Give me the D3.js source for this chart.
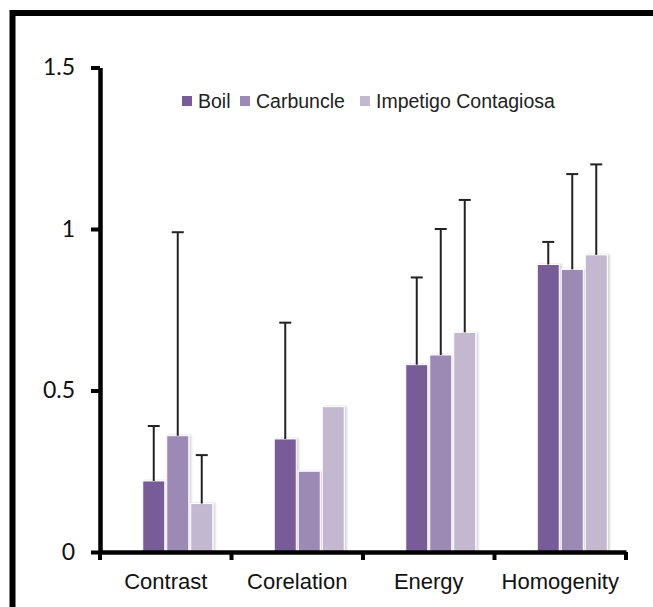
<!DOCTYPE html>
<html>
<head>
<meta charset="utf-8">
<script src="https://cdn.jsdelivr.net/npm/d3@7"></script>
<style>
  html, body { margin: 0; padding: 0; background: #fff; }
  svg { display: block; }
</style>
</head>
<body>
<svg id="chart" width="653" height="607"></svg>
<script>
// Texture features per lesion class
const categories = ["Contrast", "Corelation", "Energy", "Homogenity"];
const seriesNames = ["Boil", "Carbuncle", "Impetigo Contagiosa"];
const boil      = [0.22, 0.35, 0.58, 0.89];
const carbuncle = [0.36, 0.25, 0.61, 0.875];
const impetigo  = [0.15, 0.45, 0.68, 0.92];
// upper end of the error whisker (null = no whisker drawn)
const boilUpper      = [0.39, 0.71, 0.85, 0.96];
const carbuncleUpper = [0.99, null, 1.00, 1.17];
const impetigoUpper  = [0.30, null, 1.09, 1.20];
const yTicks = [0, 0.5, 1, 1.5];
const colors = ["#775c97", "#9c89b4", "#c3b8d0"];

const values = [boil, carbuncle, impetigo];
const uppers = [boilUpper, carbuncleUpper, impetigoUpper];

const svg = d3.select("#chart");

// outer frame (top and left edges)
svg.append("path")
  .attr("d", "M12.5,607 V13 H653")
  .attr("fill", "none")
  .attr("stroke", "#000")
  .attr("stroke-width", 6);

const plot = { left: 100, right: 626, top: 67.5, bottom: 552 };

const x0 = d3.scaleBand().domain(categories).range([plot.left, plot.right]);
const y = d3.scaleLinear().domain([0, 1.5]).range([plot.bottom, plot.top]);

// each category reserves four bar slots; the first one stays empty
const slotCount = 4, slotW = 24, barW = 22;
const x1 = d3.scaleBand().domain(d3.range(slotCount)).range([0, slotCount * slotW]);
const groupLeft = c => x0(c) + (x0.bandwidth() - slotCount * slotW) / 2;

const defs = svg.append("defs");
const f = defs.append("filter").attr("id", "shadow")
  .attr("x", "-20%").attr("y", "-5%").attr("width", "150%").attr("height", "110%");
f.append("feDropShadow").attr("dx", 2).attr("dy", 0).attr("stdDeviation", 1.2)
  .attr("flood-color", "#000").attr("flood-opacity", 0.18);

const rows = [];
categories.forEach((c, ci) => {
  seriesNames.forEach((s, si) => {
    rows.push({ c, si, v: values[si][ci], u: uppers[si][ci] });
  });
});

const bars = svg.append("g");
bars.selectAll("rect")
  .data(rows)
  .join("rect")
  .attr("x", d => groupLeft(d.c) + x1(d.si + 1) + (slotW - barW) / 2)
  .attr("y", d => y(d.v))
  .attr("width", barW)
  .attr("height", d => y(0) - y(d.v))
  .attr("fill", d => colors[d.si])
  .attr("stroke", "#fff")
  .attr("stroke-width", 1)
  .attr("filter", "url(#shadow)");

// upper error whiskers
const err = svg.append("g").attr("stroke", "#222").attr("stroke-width", 2);
const withErr = rows.filter(d => d.u != null);
const cx = d => groupLeft(d.c) + x1(d.si + 1) + slotW / 2;
err.selectAll("line.v").data(withErr).join("line").attr("class", "v")
  .attr("x1", cx).attr("x2", cx)
  .attr("y1", d => y(d.v)).attr("y2", d => y(d.u));
err.selectAll("line.cap").data(withErr).join("line").attr("class", "cap")
  .attr("x1", d => cx(d) - 6).attr("x2", d => cx(d) + 6)
  .attr("y1", d => y(d.u)).attr("y2", d => y(d.u));

// y axis
const yAxis = svg.append("g")
  .attr("transform", `translate(${plot.left},0)`)
  .call(d3.axisLeft(y).tickValues(yTicks).tickSize(9).tickSizeOuter(0).tickFormat(d3.format("")).tickPadding(16));
yAxis.select(".domain").attr("stroke-width", 4.5).attr("stroke", "#000");
yAxis.selectAll(".tick line").attr("stroke-width", 4).attr("stroke", "#000");
yAxis.selectAll(".tick text")
  .attr("font-family", "Lato, 'DejaVu Sans', sans-serif")
  .attr("font-size", 23)
  .attr("fill", "#111");

// x axis: labels centred in each band, ticks on band boundaries
const xAxis = svg.append("g")
  .attr("transform", `translate(0,${plot.bottom})`)
  .call(d3.axisBottom(x0).tickSize(0).tickSizeOuter(0).tickPadding(21));
xAxis.select(".domain").attr("stroke-width", 4.5).attr("stroke", "#000");
xAxis.selectAll(".tick text")
  .attr("font-family", "'Liberation Sans', Arial, sans-serif")
  .attr("font-size", 22)
  .attr("fill", "#111");
const bounds = categories.map(c => x0(c)).concat([plot.right]);
xAxis.selectAll("line.b").data(bounds).join("line").attr("class", "b")
  .attr("x1", d => d).attr("x2", d => d)
  .attr("y1", 0).attr("y2", 8)
  .attr("stroke", "#000").attr("stroke-width", 4);

// legend
const legend = svg.append("g").attr("transform", "translate(182,101)");
const legendX = [0, 58, 178];
seriesNames.forEach((s, i) => {
  const g = legend.append("g").attr("transform", `translate(${legendX[i]},0)`);
  g.append("rect").attr("x", 0).attr("y", -5).attr("width", 10).attr("height", 10)
    .attr("fill", colors[i]);
  g.append("text").attr("x", 16).attr("y", 0).attr("dy", "0.36em")
    .attr("font-family", "'Liberation Sans', Arial, sans-serif")
    .attr("font-size", 19.5).attr("fill", "#222")
    .text(s);
});
</script>
</body>
</html>
